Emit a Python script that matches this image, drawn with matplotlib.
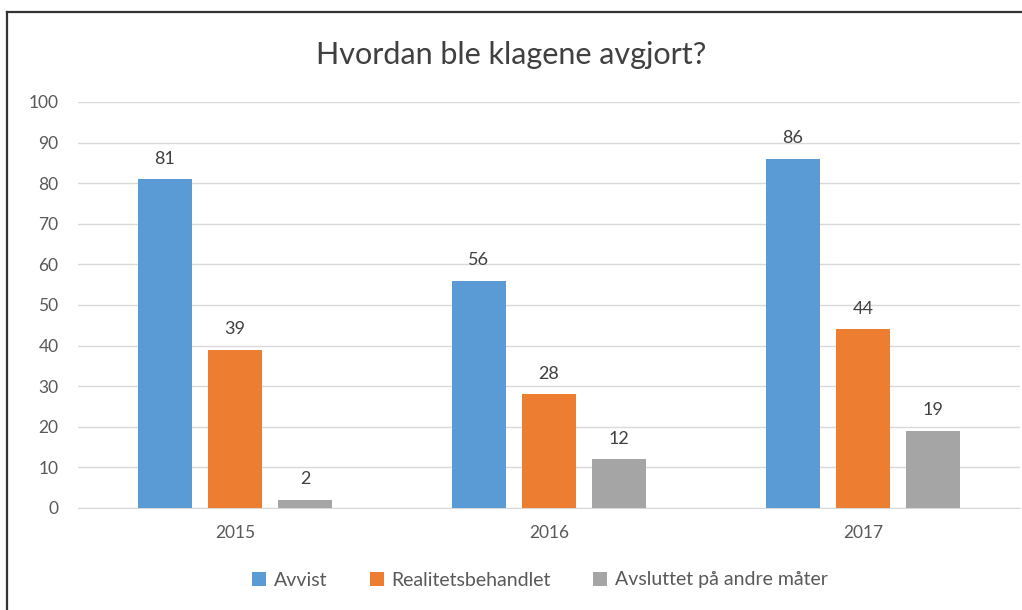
import numpy as np
import matplotlib
matplotlib.use("Agg")
import matplotlib.pyplot as plt
from matplotlib.lines import Line2D

# data
years = ["2015", "2016", "2017"]
series_names = ["Avvist", "Realitetsbehandlet", "Avsluttet på andre måter"]
avvist = [81, 56, 86]
realitet = [39, 28, 44]
avsluttet = [2, 12, 19]
colors = ["#5B9BD5", "#ED7D31", "#A5A5A5"]
yticks = [0, 10, 20, 30, 40, 50, 60, 70, 80, 90, 100]

plt.rcParams['font.family'] = ['Lato', 'DejaVu Sans']
txt = "#595959"

fig = plt.figure(figsize=(10.22, 6.10), dpi=100)
ax = fig.add_axes([78/1022, 1-508/610, 942/1022, 406/610])

x = np.arange(len(years))
width = 0.175
step = 0.223
for i, (vals, col) in enumerate(zip([avvist, realitet, avsluttet], colors)):
    pos = x + (i-1)*step
    bars = ax.bar(pos, vals, width, color=col, label=series_names[i], zorder=3)
    for b, v in zip(bars, vals):
        ax.annotate(str(v), (b.get_x()+b.get_width()/2, v), xytext=(0, 9),
                    textcoords="offset points", ha="center", va="bottom",
                    fontsize=13, color="#404040")

ax.set_xlim(-0.5, 2.5)
ax.set_ylim(0, 100)
ax.set_yticks(yticks)
ax.set_xticks(x)
ax.set_xticklabels(years)
ax.tick_params(axis="both", length=0, labelsize=12.5, colors=txt)
ax.tick_params(axis="y", pad=14)
ax.tick_params(axis="x", pad=12)
ax.grid(axis="y", color="#D9D9D9", linewidth=1, zorder=0)
for s in ["top", "right", "left"]:
    ax.spines[s].set_visible(False)
ax.spines["bottom"].set_color("#D9D9D9")

fig.text(0.5, 1-55/610, "Hvordan ble klagene avgjort?", ha="center", va="center",
         fontsize=22, color="#404040")

leg = fig.legend(loc="center", bbox_to_anchor=(540/1022, 1-580/610), ncol=3,
                 frameon=False, fontsize=14, handlelength=0.7, handleheight=0.7,
                 handletextpad=0.4, columnspacing=2.2)
for t in leg.get_texts():
    t.set_color(txt)

# chart frame (top and left edges)
fig.add_artist(Line2D([7/1022, 1], [1-12/610, 1-12/610], color="#333333", linewidth=1.6,
                      transform=fig.transFigure))
fig.add_artist(Line2D([7/1022, 7/1022], [0, 1-12/610], color="#333333", linewidth=1.6,
                      transform=fig.transFigure))

fig.savefig("out.png", dpi=100, facecolor="white")
